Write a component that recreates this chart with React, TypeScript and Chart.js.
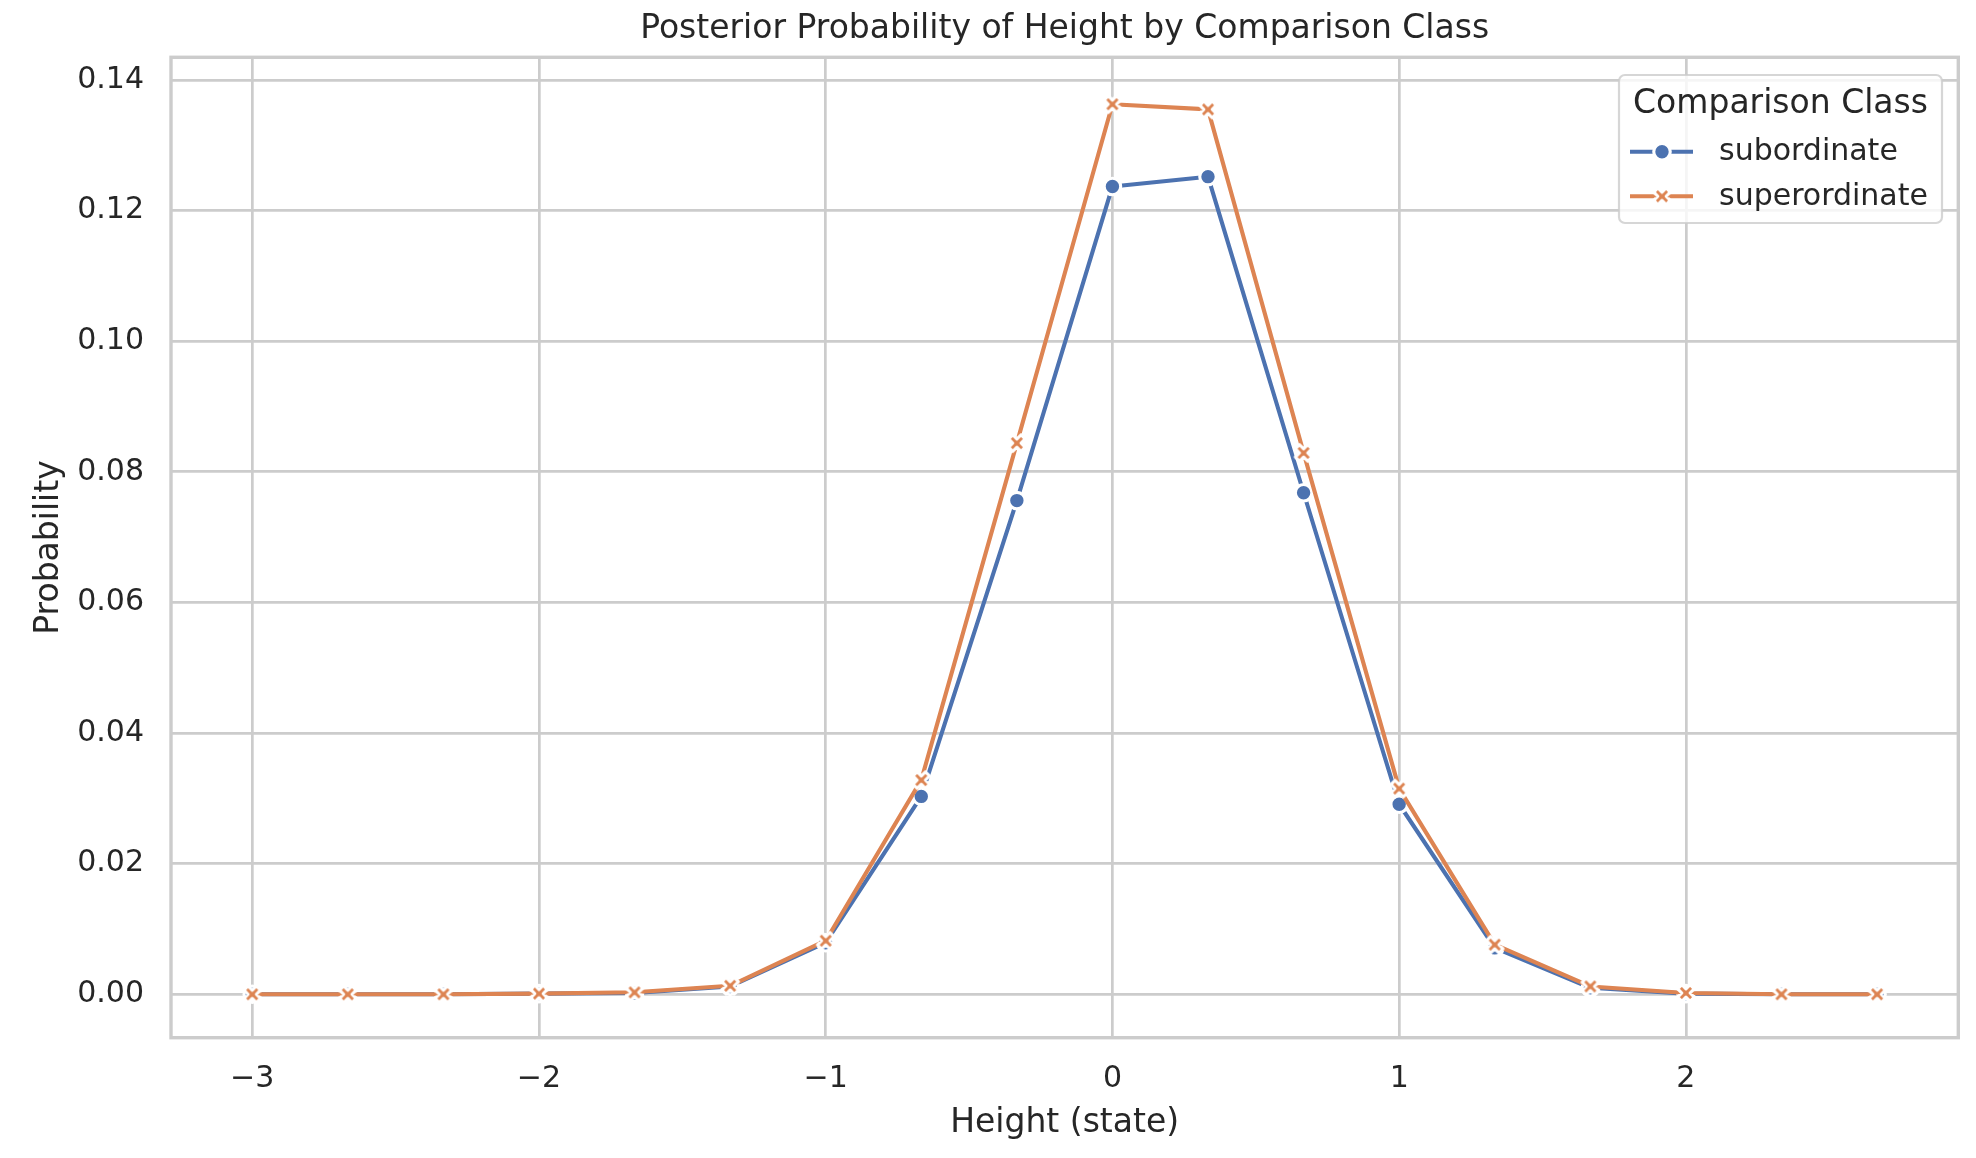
import React, { useEffect, useRef } from 'react';
import { Chart, registerables } from 'chart.js';

Chart.register(...registerables);

// ---------- data ----------
const heightStates = [
  -3, -2.6667, -2.3333, -2, -1.6667, -1.3333, -1, -0.6667, -0.3333,
  0, 0.3333, 0.6667, 1, 1.3333, 1.6667, 2, 2.3333, 2.6667,
];
const subordinate = [
  0, 0, 0, 0.0001, 0.0002, 0.0012, 0.0079, 0.0303, 0.0756,
  0.1237, 0.1252, 0.0768, 0.0291, 0.0071, 0.0010, 0.0001, 0, 0,
];
const superordinate = [
  0, 0, 0, 0.0001, 0.0003, 0.0013, 0.0082, 0.0328, 0.0844,
  0.1363, 0.1355, 0.0829, 0.0315, 0.0076, 0.0012, 0.0002, 0, 0,
];
const seriesNames = ['subordinate', 'superordinate'];
const seriesColors = ['#4c72b0', '#dd8452'];
const xTickValues = [-3, -2, -1, 0, 1, 2];
const yTickValues = [0, 0.02, 0.04, 0.06, 0.08, 0.1, 0.12, 0.14];
const X_MIN = -3.2833;
const X_MAX = 2.95;
const Y_MIN = -0.00665;
const Y_MAX = 0.14348;

const chartTitle = 'Posterior Probability of Height by Comparison Class';
const xTitle = 'Height (state)';
const yTitle = 'Probability';
const legendTitle = 'Comparison Class';

const FONT = "'DejaVu Sans', sans-serif";
const TEXT = '#262626';
const GRID = '#cccccc';

function makeXMarker(color: string) {
  const c = document.createElement('canvas');
  c.width = 28;
  c.height = 28;
  const g = c.getContext('2d')!;
  const pts = [
    [-1, -2], [0, -1], [1, -2], [2, -1], [1, 0], [2, 1],
    [1, 2], [0, 1], [-1, 2], [-2, 1], [-1, 0], [-2, -1],
  ];
  const s = 16.5 / 4;
  g.translate(14, 14);
  g.beginPath();
  pts.forEach(([x, y], i) => (i ? g.lineTo(x * s, y * s) : g.moveTo(x * s, y * s)));
  g.closePath();
  g.fillStyle = color;
  g.fill();
  g.strokeStyle = '#ffffff';
  g.lineWidth = 3.1;
  g.lineJoin = 'round';
  g.stroke();
  return c;
}

function drawCircleMarker(ctx: CanvasRenderingContext2D, x: number, y: number, color: string) {
  ctx.beginPath();
  ctx.arc(x, y, 8.25, 0, Math.PI * 2);
  ctx.fillStyle = color;
  ctx.fill();
  ctx.strokeStyle = '#ffffff';
  ctx.lineWidth = 3.1;
  ctx.stroke();
}

export default function App() {
  const ref = useRef<HTMLCanvasElement | null>(null);

  useEffect(() => {
    const canvas = ref.current;
    if (!canvas) return;
    const xMarker = makeXMarker(seriesColors[1]);

    const spinePlugin = {
      id: 'spines',
      afterDatasetsDraw(chart: any) {
        const { ctx, chartArea: a } = chart;
        ctx.save();
        ctx.strokeStyle = GRID;
        ctx.lineWidth = 3.4;
        ctx.strokeRect(a.left, a.top, a.right - a.left, a.bottom - a.top);
        ctx.restore();
      },
    };

    const legendPlugin = {
      id: 'seabornLegend',
      afterDraw(chart: any) {
        const { ctx, chartArea: a } = chart;
        ctx.save();
        const bx = a.right - 339.3;
        const by = a.top + 17.7;
        const bw = 323;
        const bh = 148;
        const r = 6;
        ctx.beginPath();
        ctx.moveTo(bx + r, by);
        ctx.lineTo(bx + bw - r, by);
        ctx.arcTo(bx + bw, by, bx + bw, by + r, r);
        ctx.lineTo(bx + bw, by + bh - r);
        ctx.arcTo(bx + bw, by + bh, bx + bw - r, by + bh, r);
        ctx.lineTo(bx + r, by + bh);
        ctx.arcTo(bx, by + bh, bx, by + bh - r, r);
        ctx.lineTo(bx, by + r);
        ctx.arcTo(bx, by, bx + r, by, r);
        ctx.closePath();
        ctx.fillStyle = 'rgba(255,255,255,0.8)';
        ctx.fill();
        ctx.strokeStyle = 'rgba(204,204,204,0.8)';
        ctx.lineWidth = 2.2;
        ctx.stroke();

        ctx.fillStyle = TEXT;
        ctx.textAlign = 'center';
        ctx.textBaseline = 'middle';
        ctx.font = `33px ${FONT}`;
        ctx.fillText(legendTitle, bx + bw / 2, by + 29.4);

        const rows = [by + 76.7, by + 121.3];
        seriesNames.forEach((name, i) => {
          const yy = rows[i];
          ctx.beginPath();
          ctx.moveTo(bx + 11, yy);
          ctx.lineTo(bx + 74, yy);
          ctx.strokeStyle = seriesColors[i];
          ctx.lineWidth = 4.1;
          ctx.stroke();
          const mx = bx + 43;
          if (i === 0) drawCircleMarker(ctx, mx, yy, seriesColors[0]);
          else ctx.drawImage(xMarker, mx - xMarker.width / 2, yy - xMarker.height / 2);
          ctx.fillStyle = TEXT;
          ctx.textAlign = 'left';
          ctx.font = `30px ${FONT}`;
          ctx.fillText(name, bx + 100, yy + 0.8);
        });
        ctx.restore();
      },
    };

    const chart = new Chart(canvas, {
      type: 'line',
      data: {
        datasets: [
          {
            label: seriesNames[0],
            data: heightStates.map((x, i) => ({ x, y: subordinate[i] })),
            borderColor: seriesColors[0],
            backgroundColor: seriesColors[0],
            borderWidth: 4.1,
            pointStyle: 'circle',
            pointRadius: 8.25,
            pointBorderWidth: 3.1,
            pointBorderColor: '#ffffff',
            pointBackgroundColor: seriesColors[0],
            tension: 0,
            borderJoinStyle: 'round',
            order: 1,
          },
          {
            label: seriesNames[1],
            data: heightStates.map((x, i) => ({ x, y: superordinate[i] })),
            borderColor: seriesColors[1],
            backgroundColor: seriesColors[1],
            borderWidth: 4.1,
            pointStyle: xMarker as any,
            pointRadius: 8.25,
            tension: 0,
            borderJoinStyle: 'round',
            order: 0,
          },
        ],
      },
      options: {
        animation: false,
        responsive: false,
        devicePixelRatio: 1,
        events: [],
        layout: { padding: { left: 0, right: 17.7, top: 0, bottom: 0 } },
        plugins: {
          legend: { display: false },
          tooltip: { enabled: false },
          title: {
            display: true,
            text: chartTitle,
            fullSize: false,
            color: TEXT,
            font: { family: FONT, size: 33, weight: 'normal' },
            padding: { top: 9.9, bottom: 7.8 },
          },
        },
        scales: {
          x: {
            type: 'linear',
            min: X_MIN,
            max: X_MAX,
            afterBuildTicks: (s: any) => {
              s.ticks = xTickValues.map((v) => ({ value: v }));
            },
            afterFit: (s: any) => {
              s.height = 120.3;
            },
            grid: { color: GRID, lineWidth: 2.7, drawTicks: false },
            border: { display: false },
            ticks: {
              color: TEXT,
              font: { family: FONT, size: 30 },
              padding: 23.3,
              maxRotation: 0,
              autoSkip: false,
              callback: (v: any) => (v < 0 ? '\u2212' + Math.abs(v) : String(v)),
            },
            title: {
              display: true,
              text: xTitle,
              color: TEXT,
              font: { family: FONT, size: 33 },
              padding: { top: 0, bottom: 15.2 },
            },
          },
          y: {
            type: 'linear',
            min: Y_MIN,
            max: Y_MAX,
            afterBuildTicks: (s: any) => {
              s.ticks = yTickValues.map((v) => ({ value: v }));
            },
            afterFit: (s: any) => {
              s.width = 171;
            },
            grid: { color: GRID, lineWidth: 2.7, drawTicks: false },
            border: { display: false },
            ticks: {
              color: TEXT,
              font: { family: FONT, size: 30 },
              padding: 27,
              autoSkip: false,
              callback: (v: any) => Number(v).toFixed(2),
            },
            title: {
              display: true,
              text: yTitle,
              color: TEXT,
              font: { family: FONT, size: 33 },
              padding: { top: 29.2, bottom: 0 },
            },
          },
        },
      } as any,
      plugins: [spinePlugin, legendPlugin],
    });

    return () => chart.destroy();
  }, []);

  return (
    <div style={{ position: 'absolute', left: 0, top: 0, width: 1976, height: 1158, background: '#ffffff' }}>
      <canvas ref={ref} width={1976} height={1158} style={{ width: 1976, height: 1158, display: 'block' }} />
    </div>
  );
}
